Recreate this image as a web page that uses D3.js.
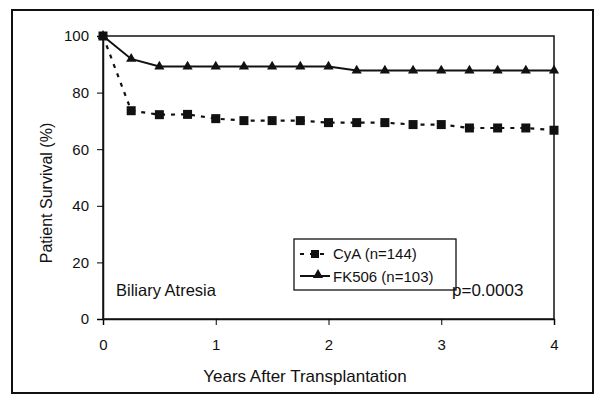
<!DOCTYPE html>
<html><head><meta charset="utf-8">
<script src="https://cdn.jsdelivr.net/npm/d3@7"></script>
<style>body{margin:0;background:#fff}svg{display:block;font-family:"Liberation Sans",Arial,sans-serif}</style>
</head><body><svg id="c" width="604" height="401"></svg>
<script>
const years = [0,0.25,0.5,0.75,1,1.25,1.5,1.75,2,2.25,2.5,2.75,3,3.25,3.5,3.75,4];
const cyaValues = [100,73.6,72.2,72.3,70.8,70.1,70.1,70.1,69.4,69.4,69.4,68.7,68.7,67.5,67.5,67.5,66.7];
const fkValues = [100,91.9,89.2,89.2,89.2,89.2,89.2,89.2,89.2,87.8,87.8,87.8,87.8,87.8,87.8,87.8,87.8];
const xTicks = [0,1,2,3,4];
const yTicks = [0,20,40,60,80,100];
const seriesNames = ["CyA (n=144)","FK506 (n=103)"];

const svg = d3.select("#c");
const x = d3.scaleLinear().domain([0,4]).range([103,554]);
const y = d3.scaleLinear().domain([0,100]).range([319,36]);

// outer frame
svg.append("rect").attr("x",12).attr("y",10).attr("width",581).attr("height",383)
  .attr("fill","none").attr("stroke","#111").attr("stroke-width",2);
// plot box
svg.append("rect").attr("x",x(0)).attr("y",y(100)).attr("width",x(4)-x(0)).attr("height",y(0)-y(100))
  .attr("fill","none").attr("stroke","#111").attr("stroke-width",1.5);

// x axis
const xa = svg.append("g").attr("transform",`translate(0,${y(0)})`);
xa.call(d3.axisBottom(x).tickValues(d3.range(0,4.01,0.25)).tickSize(4).tickFormat(""));
xa.call(d3.axisBottom(x).tickValues(xTicks).tickSize(6).tickPadding(14).tickFormat(d3.format("d")));
xa.selectAll(".domain").attr("stroke","#111").attr("stroke-width",1.5);
xa.selectAll("text").attr("font-size",15).attr("fill","#111").attr("font-family","Liberation Sans, Arial, sans-serif");
// y axis
const ya = svg.append("g").attr("transform",`translate(${x(0)},0)`);
ya.call(d3.axisLeft(y).tickValues(d3.range(0,101,10)).tickSize(4).tickFormat(""));
ya.call(d3.axisLeft(y).tickValues(yTicks).tickSize(6).tickPadding(8).tickFormat(d3.format("d")));
ya.selectAll(".domain").attr("stroke","#111").attr("stroke-width",1.5);
ya.selectAll("text").attr("font-size",15).attr("fill","#111").attr("font-family","Liberation Sans, Arial, sans-serif");

// axis titles
svg.append("text").attr("x",305).attr("y",382).attr("text-anchor","middle").attr("font-size",17).attr("fill","#111")
  .text("Years After Transplantation");
svg.append("text").attr("transform","translate(52,193) rotate(-90)").attr("text-anchor","middle").attr("font-size",16).attr("fill","#111")
  .text("Patient Survival (%)");

const line = d3.line().x((d,i)=>x(years[i])).y(d=>y(d));
// CyA dashed
svg.append("path").datum(cyaValues).attr("d",line).attr("fill","none").attr("stroke","#111")
  .attr("stroke-width",2.2).attr("stroke-dasharray","4,6");
svg.append("g").selectAll("rect").data(cyaValues).join("rect")
  .attr("x",(d,i)=>x(years[i])-4.5).attr("y",d=>y(d)-4.5).attr("width",9).attr("height",9).attr("fill","#111");
// FK506 solid
svg.append("path").datum(fkValues).attr("d",line).attr("fill","none").attr("stroke","#111").attr("stroke-width",2);
const tri = d3.symbol().type(d3.symbolTriangle).size(45);
svg.append("g").selectAll("path").data(fkValues).join("path")
  .attr("transform",(d,i)=>`translate(${x(years[i])},${y(d)})`).attr("d",tri).attr("fill","#111");

// legend
const lg = svg.append("g");
lg.append("rect").attr("x",294).attr("y",239).attr("width",162).attr("height",51).attr("fill","#fff").attr("stroke","#111").attr("stroke-width",1.3);
lg.append("line").attr("x1",299).attr("x2",330).attr("y1",254).attr("y2",254).attr("stroke","#111").attr("stroke-width",2.2).attr("stroke-dasharray","4,6").attr("stroke-dashoffset",-1);
lg.append("rect").attr("x",311).attr("y",250).attr("width",8).attr("height",8).attr("fill","#111");
lg.append("line").attr("x1",300).attr("x2",330).attr("y1",276).attr("y2",276).attr("stroke","#111").attr("stroke-width",2);
lg.append("path").attr("transform","translate(318,275)").attr("d",tri).attr("fill","#111");
lg.append("text").attr("x",333).attr("y",259).attr("font-size",15).attr("fill","#111").text(seriesNames[0]);
lg.append("text").attr("x",333).attr("y",282).attr("font-size",15).attr("fill","#111").text(seriesNames[1]);

svg.append("text").attr("x",116).attr("y",296).attr("font-size",16.5).attr("fill","#111").text("Biliary Atresia");
svg.append("text").attr("x",452).attr("y",296).attr("font-size",17).attr("fill","#111").text("p=0.0003");
</script></body></html>
